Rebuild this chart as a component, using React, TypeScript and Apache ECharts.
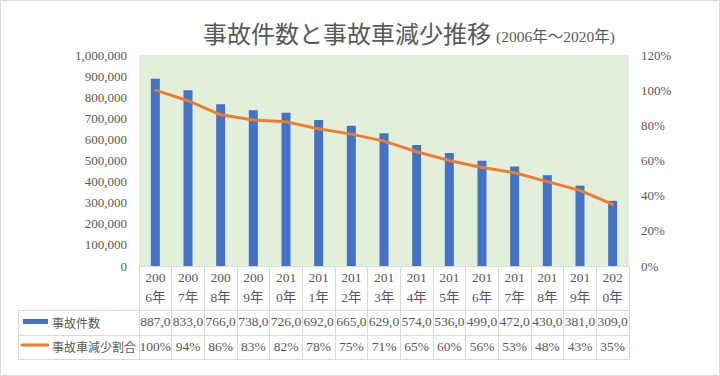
import React, { useEffect, useRef } from "react";
import * as echarts from "echarts";

const years = ["2006年", "2007年", "2008年", "2009年", "2010年", "2011年", "2012年", "2013年", "2014年", "2015年", "2016年", "2017年", "2018年", "2019年", "2020年"];
const accidents = [887000, 833000, 766000, 738000, 726000, 692000, 665000, 629000, 574000, 536000, 499000, 472000, 430000, 381000, 309000];
const ratio = [1.0, 0.94, 0.86, 0.83, 0.82, 0.78, 0.75, 0.71, 0.65, 0.6, 0.56, 0.53, 0.48, 0.43, 0.35];
const leftAxis = { min: 0, max: 1000000, interval: 100000 };
const rightAxis = { min: 0, max: 1.2, interval: 0.2 };
const seriesNames = ["事故件数", "事故車減少割合"];
const titleMain = "事故件数と事故車減少推移";
const titleSub = "(2006年～2020年)";

const SERIF = "'Liberation Serif', 'Noto Sans CJK JP', serif";
const TXT = "#595959";
const LINE = "#D9D9D9";

export default function App() {
  const ref = useRef<HTMLDivElement>(null);
  useEffect(() => {
    document.body.style.margin = "0";
    const chart = echarts.init(ref.current!, null, { renderer: "svg" });
    const gl = 139, gr = 629, gt = 55, gb = 266;
    const countLabels = accidents.map((v) => v.toLocaleString("en-US").slice(0, 5));
    const pctLabels = ratio.map((r) => Math.round(r * 100) + "%");
    chart.setOption({
      animation: false,
      backgroundColor: "#ffffff",
      title: {
        left: 198,
        top: 7,
        text: "{a|" + titleMain + "} {b|" + titleSub + "}",
        textStyle: {
          fontWeight: "normal",
          rich: {
            a: { fontSize: 24, color: TXT, fontWeight: "normal", fontFamily: "'Noto Sans CJK JP', sans-serif", verticalAlign: "bottom", lineHeight: 32 },
            b: { fontSize: 15.5, color: TXT, fontWeight: "normal", fontFamily: SERIF, verticalAlign: "bottom", lineHeight: 28 },
          },
        },
      },
      grid: {
        left: gl, right: 720 - gr, top: gt, bottom: 376 - gb,
        show: true, backgroundColor: "#E2EFDA", borderWidth: 0,
      },
      xAxis: [
        {
          type: "category", data: years,
          axisLine: { show: true, lineStyle: { color: LINE, width: 1 } },
          axisTick: { show: true, length: 93, interval: 0, lineStyle: { color: LINE } },
          axisLabel: {
            interval: 0, margin: 1, lineHeight: 20, fontSize: 13.5, color: TXT, fontFamily: SERIF,
            formatter: (s: string) => s.slice(0, 3) + "\n" + s.slice(3),
          },
        },
        {
          type: "category", data: countLabels, position: "bottom", offset: 44,
          axisLine: { show: false }, axisTick: { show: false },
          axisLabel: { interval: 0, margin: 5, fontSize: 13.5, color: TXT, fontFamily: SERIF },
        },
        {
          type: "category", data: pctLabels, position: "bottom", offset: 69,
          axisLine: { show: false }, axisTick: { show: false },
          axisLabel: { interval: 0, margin: 5, fontSize: 13.5, color: TXT, fontFamily: SERIF },
        },
      ],
      yAxis: [
        {
          type: "value", ...leftAxis,
          splitLine: { show: false }, axisLine: { show: false }, axisTick: { show: false },
          axisLabel: { margin: 12, fontSize: 13, color: TXT, fontFamily: SERIF, formatter: (v: number) => v.toLocaleString("en-US") },
        },
        {
          type: "value", ...rightAxis, position: "right",
          splitLine: { show: false }, axisLine: { show: false }, axisTick: { show: false },
          axisLabel: { margin: 12, fontSize: 13, color: TXT, fontFamily: SERIF, formatter: (v: number) => Math.round(v * 100) + "%" },
        },
      ],
      series: [
        { name: seriesNames[0], type: "bar", data: accidents, barWidth: 9, itemStyle: { color: "#4472C4" } },
        {
          name: seriesNames[1], type: "line", yAxisIndex: 1, data: ratio, symbol: "none",
          lineStyle: { color: "#ED7D31", width: 3, cap: "round", join: "round" }, itemStyle: { color: "#ED7D31" },
        },
      ],
      graphic: [
        { type: "rect", shape: { x: 0.5, y: 0.5, width: 719, height: 375 }, style: { fill: "none", stroke: LINE, lineWidth: 1 }, silent: true },
        ...[310.5, 335.5, 359.5].map((y) => ({
          type: "line", shape: { x1: 18, y1: y, x2: gr, y2: y }, style: { stroke: LINE, lineWidth: 1 }, silent: true,
        })),
        { type: "line", shape: { x1: 18.5, y1: 310, x2: 18.5, y2: 360 }, style: { stroke: LINE, lineWidth: 1 }, silent: true },
        { type: "rect", shape: { x: 23, y: 319, width: 25, height: 5 }, style: { fill: "#4472C4" }, silent: true },
        { type: "line", shape: { x1: 22, y1: 345, x2: 48, y2: 345 }, style: { stroke: "#ED7D31", lineWidth: 3, lineCap: "round" }, silent: true },
        { type: "text", x: 52, y: 322, style: { text: seriesNames[0], fontSize: 12, fill: TXT, fontFamily: "'Noto Sans CJK JP', sans-serif", verticalAlign: "middle" }, silent: true },
        { type: "text", x: 52, y: 346, style: { text: seriesNames[1], fontSize: 12, fill: TXT, fontFamily: "'Noto Sans CJK JP', sans-serif", verticalAlign: "middle" }, silent: true },
      ],
    });
    return () => chart.dispose();
  }, []);
  return <div ref={ref} style={{ width: 720, height: 376 }} />;
}
